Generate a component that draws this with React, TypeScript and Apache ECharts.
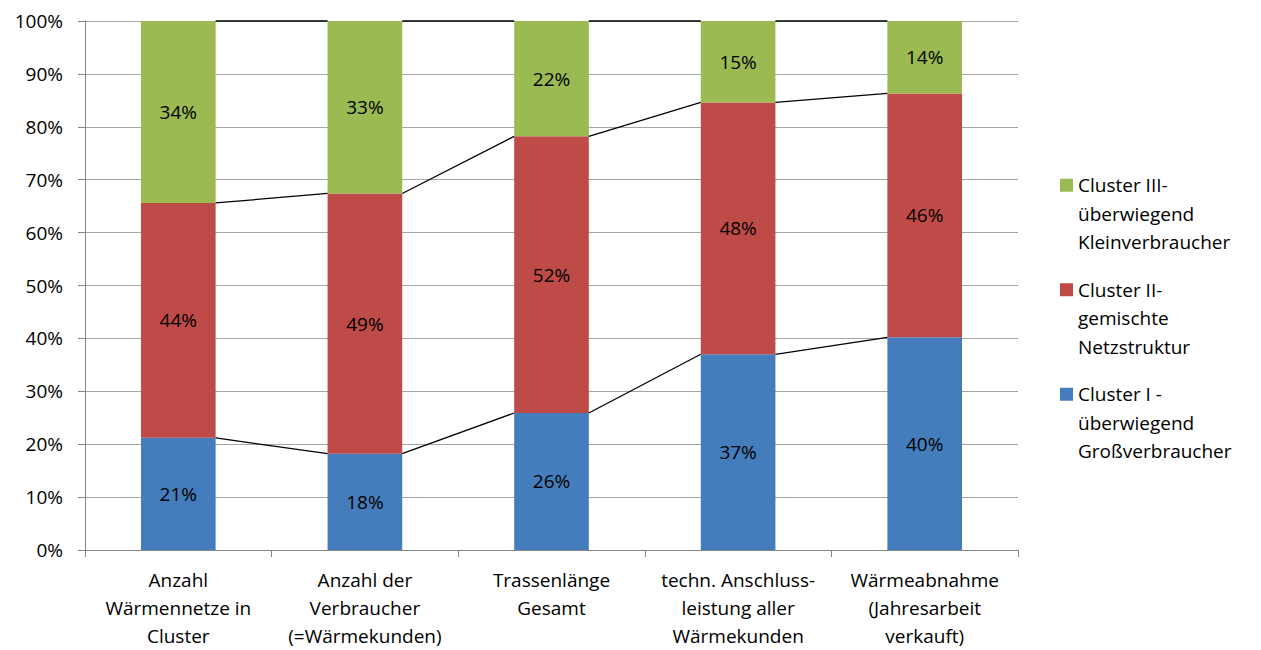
import React, { useEffect, useRef } from "react";
import * as echarts from "echarts";

const categories = [
  "Anzahl\nWärmennetze in\nCluster",
  "Anzahl der\nVerbraucher\n(=Wärmekunden)",
  "Trassenlänge\nGesamt",
  "techn. Anschluss-\nleistung aller\nWärmekunden",
  "Wärmeabnahme\n(Jahresarbeit\nverkauft)",
];
const seriesNames = [
  "Cluster I -\nüberwiegend\nGroßverbraucher",
  "Cluster II-\ngemischte\nNetzstruktur",
  "Cluster III-\nüberwiegend\nKleinverbraucher",
];
const cluster1 = [21.2, 18.2, 25.9, 37.0, 40.2];
const cluster2 = [44.4, 49.2, 52.3, 47.6, 46.1];
const cluster3 = [34.4, 32.6, 21.8, 15.4, 13.7];
const colors = ["#457DBC", "#BF4B48", "#9BBA52"];
const yTicks = [0, 10, 20, 30, 40, 50, 60, 70, 80, 90, 100];

const FONT = "'Open Sans', sans-serif";

export default function App() {
  const ref = useRef<HTMLDivElement>(null);
  useEffect(() => {
    document.body.style.margin = "0";
    document.body.style.overflow = "hidden";
    if (!ref.current) return;
    const chart = echarts.init(ref.current, undefined, { renderer: "svg" });
    const all = [cluster1, cluster2, cluster3];
    const cum = categories.map((_, i) => {
      let s = 0;
      return all.map((arr) => (s += arr[i]));
    });
    const lineData = categories.slice(0, -1).map((_, i) => [i, ...cum[i], ...cum[i + 1]]);
    const barSeries = all.map((arr, k) => ({
      name: seriesNames[k],
      type: "bar",
      stack: "total",
      barWidth: "40%",
      data: arr,
      itemStyle: { color: colors[k] },
      label: {
        show: true,
        position: "inside",
        color: "#000",
        fontFamily: FONT,
        fontSize: 19,
        formatter: (p: any) => Math.round(p.value) + "%",
      },
    }));
    chart.setOption({
      animation: false,
      textStyle: { fontFamily: FONT },
      grid: { left: 85, right: 243, top: 21, bottom: 97, containLabel: false },
      legend: {
        orient: "vertical",
        left: 1060,
        top: 114,
        padding: 0,
        itemWidth: 13,
        itemHeight: 13,
        itemGap: -38,
        icon: "rect",
        data: [seriesNames[2], seriesNames[1], seriesNames[0]],
        formatter: (name: string) => "\n\n" + name,
        textStyle: { fontFamily: FONT, fontSize: 19, color: "#000", lineHeight: 28.5 },
        selectedMode: false,
      },
      xAxis: {
        type: "category",
        data: categories,
        axisLine: { lineStyle: { color: "#868686" } },
        axisTick: { show: true, length: 7, lineStyle: { color: "#868686" } },
        axisLabel: {
          interval: 0,
          color: "#000",
          fontFamily: FONT,
          fontSize: 19,
          lineHeight: 28,
          margin: 16,
        },
      },
      yAxis: {
        type: "value",
        min: yTicks[0],
        max: yTicks[yTicks.length - 1],
        interval: 10,
        axisLine: { show: true, lineStyle: { color: "#868686" } },
        axisTick: { show: true, length: 7, lineStyle: { color: "#868686" } },
        axisLabel: {
          color: "#000",
          fontFamily: FONT,
          fontSize: 19,
          margin: 22,
          formatter: "{value}%",
        },
        splitLine: { lineStyle: { color: "#A6A6A6" } },
      },
      series: [
        ...barSeries,
        {
          type: "custom",
          name: "lines",
          silent: true,
          z: 5,
          encode: { x: 0, y: 1 },
          data: lineData,
          renderItem: (params: any, api: any) => {
            const i = api.value(0);
            const half = (api.size([1, 0])[0] * 0.4) / 2;
            const children = [];
            for (let k = 1; k <= 3; k++) {
              const a = api.coord([i, api.value(k)]);
              const b = api.coord([i + 1, api.value(k + 3)]);
              children.push({
                type: "line",
                shape: { x1: a[0] + half, y1: a[1], x2: b[0] - half, y2: b[1] },
                style: { stroke: "#000", lineWidth: 1.3 },
              });
            }
            return { type: "group", children };
          },
        },
      ],
    });
    return () => chart.dispose();
  }, []);
  return <div ref={ref} style={{ width: 1261, height: 650 }} />;
}
